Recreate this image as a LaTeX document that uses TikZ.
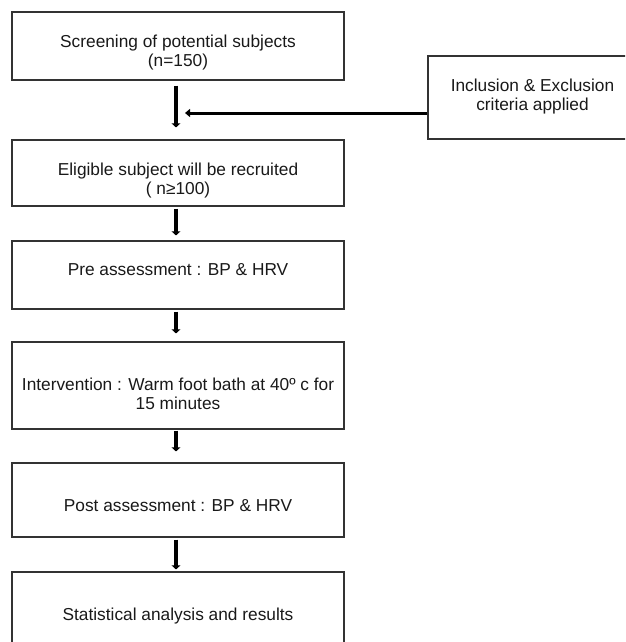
\documentclass[tikz,border=0pt]{standalone}
\usepackage{fontspec}
\setmainfont{Liberation Sans}
\usetikzlibrary{arrows.meta}

\begin{document}
\begin{tikzpicture}[x=1pt, y=-1pt,
    stepbox/.style={draw=black!80, line width=1.1pt, minimum width=332pt, inner sep=0pt},
    steptext/.style={align=center, inner sep=0pt, text=black!90,
      font=\fontsize{17.3}{19}\selectfont},
    flow/.style={line width=4pt, -{Triangle[length=4pt, width=8.5pt]}},
    side/.style={line width=3pt, -{Triangle[length=5pt, width=8pt]}}]
  % page of 625 x 642 px, 1px = 1pt; the last box runs off the bottom edge
  \useasboundingbox (0,0) rectangle (625,642);
  \clip (0,0) rectangle (625,642);

  \node[stepbox, minimum height=68pt] (scr) at (178,46) {};
  \node[stepbox, minimum height=66pt] (elig) at (178,173) {};
  \node[stepbox, minimum height=68pt] (pre) at (178,275) {};
  \node[stepbox, minimum height=87pt] (inter) at (178,385.5) {};
  \node[stepbox, minimum height=74pt] (post) at (178,500) {};
  \node[stepbox, minimum height=90pt] (stat) at (178,617) {};
  \node[stepbox, minimum width=212pt, minimum height=83pt] (incl) at (534,97.5) {};

  \node[steptext] (scr-t) at (178,53) {Screening of potential subjects\\(n=150)};
  \node[steptext] (elig-t) at (178,181) {Eligible subject will be recruited\\( n≥100)};
  \node[steptext] (pre-t) at (178,269.5) {Pre assessment : BP \& HRV};
  \node[steptext] (inter-t) at (178,394) {Intervention : Warm foot bath at 40º c for\\15 minutes};
  \node[steptext] (post-t) at (178,505.5) {Post assessment : BP \& HRV};
  \node[steptext] (stat-t) at (178,616) {Statistical analysis and results};
  \node[steptext] (incl-t) at (532.5,97) {Inclusion \& Exclusion\\criteria applied};

  \draw[flow, shorten <=5pt, shorten >=12pt] ([xshift=-2pt]scr.south) -- ([xshift=-2pt]elig.north);
  \draw[flow, shorten <=2pt, shorten >=5pt] ([xshift=-2pt]elig.south) -- ([xshift=-2pt]pre.north);
  \draw[flow, shorten <=2pt, shorten >=8pt] ([xshift=-2pt]pre.south) -- ([xshift=-2pt]inter.north);
  \draw[flow, shorten <=1pt, shorten >=11pt] ([xshift=-2pt]inter.south) -- ([xshift=-2pt]post.north);
  \draw[flow, shorten <=2pt, shorten >=2pt] ([xshift=-2pt]post.south) -- ([xshift=-2pt]stat.north);

  \coordinate (hit) at (185,113);
  \draw[side] ([yshift=-15.5pt]incl.west) -- (hit);
\end{tikzpicture}
\end{document}
